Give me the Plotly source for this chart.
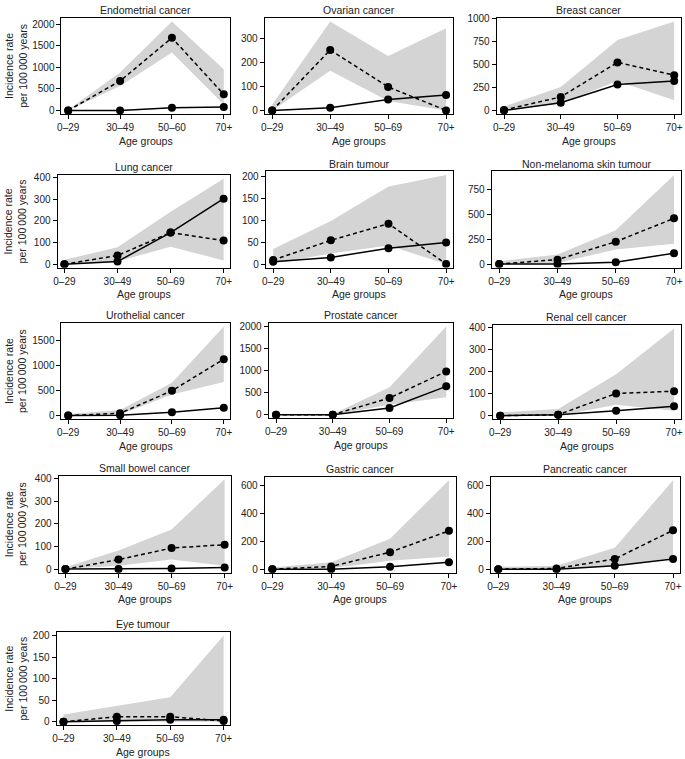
import plotly.graph_objects as go

# ---------------- data ----------------
age_groups = ["0–29", "30–49", "50–69", "70+"]
age_groups_endometrial = ["0–29", "30–49", "50–60", "70+"]

panel_titles = [
    "Endometrial cancer", "Ovarian cancer", "Breast cancer",
    "Lung cancer", "Brain tumour", "Non-melanoma skin tumour",
    "Urothelial cancer", "Prostate cancer", "Renal cell cancer",
    "Small bowel cancer", "Gastric cancer", "Pancreatic cancer",
    "Eye tumour",
]

# dashed line (cohort incidence)
cohort_rate = [
    [0, 682, 1682, 372],
    [0, 252, 98, 0],
    [5, 147, 524, 385],
    [0, 40, 146, 109],
    [9, 54, 92, 0],
    [0, 44, 225, 460],
    [0, 47, 498, 1130],
    [0, 0, 377, 981],
    [0, 4, 101, 111],
    [0, 42, 93, 108],
    [0, 19, 122, 275],
    [0, 5, 73, 279],
    [0, 12, 12, 2],
]
# solid line (general population incidence)
population_rate = [
    [0, 0, 62, 78],
    [0, 11, 46, 64],
    [0, 84, 282, 322],
    [0, 12, 146, 303],
    [5, 15, 36, 49],
    [0, 0, 17, 109],
    [0, 5, 67, 155],
    [0, 0, 151, 642],
    [0, 4, 22, 43],
    [0, 0, 3, 7],
    [0, 0, 17, 49],
    [0, 0, 24, 73],
    [0, 2, 5, 5],
]
# grey band (confidence interval of cohort incidence)
ci_low = [
    [0, 566, 1341, 140],
    [0, 165, 39, 0],
    [0, 75, 320, 110],
    [0, 12, 81, 17],
    [1, 24, 42, 0],
    [0, 10, 147, 205],
    [0, 20, 424, 673],
    [0, 0, 226, 392],
    [0, 0, 49, 22],
    [0, 15, 42, 15],
    [0, 7, 61, 90],
    [0, 0, 24, 80],
    [0, 0, 0, 0],
]
ci_high = [
    [15, 876, 2062, 953],
    [25, 371, 227, 343],
    [40, 256, 769, 971],
    [20, 78, 242, 395],
    [34, 98, 177, 203],
    [27, 95, 341, 897],
    [30, 114, 660, 1783],
    [0, 10, 619, 2000],
    [15, 30, 188, 396],
    [8, 82, 175, 397],
    [12, 49, 219, 639],
    [17, 24, 153, 639],
    [17, 37, 57, 200],
]
y_dtick = [500, 100, 250, 100, 50, 250, 500, 500, 100, 100, 200, 200, 50]

# ---------------- layout (pixel boxes: left, right, top, bottom) ----------------
W, H = 685, 759
boxes = [
    (58, 228, 13, 110), (263, 453, 13, 110), (497, 683, 13, 110),
    (54, 228, 172, 265), (264, 453, 168, 265), (492, 683, 168, 265),
    (58, 228, 321, 418), (267, 453, 321, 417), (493, 683, 323, 418),
    (55, 229, 475, 573), (263, 456, 476, 573), (491, 682, 476, 573),
    (53, 228, 633, 727),
]
first_col = [0, 3, 6, 9, 12]

FONT = "Liberation Sans, Arial, Helvetica, sans-serif"
TXT = "#222222"
BAND = "#d4d4d4"

fig = go.Figure()
annotations = []
layout_axes = {}

for i, title in enumerate(panel_titles):
    n = i + 1
    xa = "x" if n == 1 else f"x{n}"
    ya = "y" if n == 1 else f"y{n}"
    cats = age_groups_endometrial if i == 0 else age_groups
    lo, hi = ci_low[i], ci_high[i]

    fig.add_trace(go.Scatter(
        x=cats + cats[::-1], y=hi + lo[::-1], fill="toself",
        fillcolor=BAND, line=dict(width=0, color=BAND), mode="lines",
        hoverinfo="skip", showlegend=False, xaxis=xa, yaxis=ya))
    fig.add_trace(go.Scatter(
        x=cats, y=population_rate[i], mode="lines+markers",
        line=dict(color="black", width=1.5),
        marker=dict(color="black", size=8),
        showlegend=False, xaxis=xa, yaxis=ya))
    fig.add_trace(go.Scatter(
        x=cats, y=cohort_rate[i], mode="lines+markers",
        line=dict(color="black", width=1.5, dash="4px,3px"),
        marker=dict(color="black", size=8),
        showlegend=False, xaxis=xa, yaxis=ya))

    l, r, t, b = boxes[i]
    ymax = max(hi)
    axkey = "xaxis" if n == 1 else f"xaxis{n}"
    aykey = "yaxis" if n == 1 else f"yaxis{n}"
    layout_axes[axkey] = dict(
        domain=[l / W, r / W], anchor=ya, type="category",
        categoryorder="array", categoryarray=cats,
        range=[-0.13, 3.12], showgrid=False, zeroline=False,
        showline=True, mirror=True, linecolor="black", linewidth=1,
        ticks="outside", ticklen=4, tickcolor="black", tickwidth=1,
        tickfont=dict(family=FONT, size=10, color=TXT), fixedrange=True)
    layout_axes[aykey] = dict(
        domain=[1 - b / H, 1 - t / H], anchor=xa,
        range=[-0.04 * ymax, 1.04 * ymax], dtick=y_dtick[i], tick0=0,
        showgrid=False, zeroline=False,
        showline=True, mirror=True, linecolor="black", linewidth=1,
        ticks="outside", ticklen=4, tickcolor="black", tickwidth=1,
        tickfont=dict(family=FONT, size=10, color=TXT), fixedrange=True)

    cx = (l + r) / 2 / W
    annotations.append(dict(
        text=title, x=cx, y=1 - (t - 8) / H, xref="paper", yref="paper",
        xanchor="center", yanchor="middle", showarrow=False,
        font=dict(family=FONT, size=10.5, color=TXT)))
    annotations.append(dict(
        text="Age groups", x=cx, y=1 - (b + 27) / H, xref="paper", yref="paper",
        xanchor="center", yanchor="middle", showarrow=False,
        font=dict(family=FONT, size=10.5, color=TXT)))
    if i in first_col:
        annotations.append(dict(
            text="Incidence rate<br>per 100\u2009000 years",
            x=12 / W, y=1 - ((t + b) / 2) / H, xref="paper", yref="paper",
            xanchor="center", yanchor="middle", showarrow=False, textangle=-90,
            font=dict(family=FONT, size=10.5, color=TXT)))

fig.update_layout(
    width=W, height=H, margin=dict(l=0, r=0, t=0, b=0),
    paper_bgcolor="white", plot_bgcolor="white",
    annotations=annotations, showlegend=False, **layout_axes)

fig.write_html(
    "out.html",
    config={"displayModeBar": False, "staticPlot": True},
    post_script="document.body.style.margin='0';document.body.style.overflow='hidden';")
